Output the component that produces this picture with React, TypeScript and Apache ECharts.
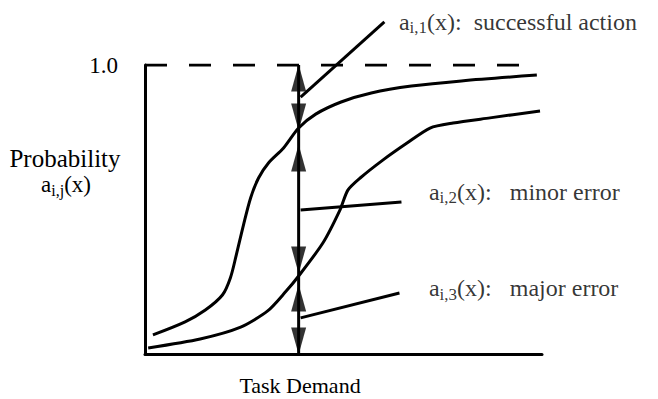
import React, { useEffect, useRef } from "react";
import * as echarts from "echarts";

// Task demand (0..10) vs probability (0..1)
const upperCurve: [number, number][] = [
  [0.2, 0.066], [1.01, 0.111], [1.52, 0.152], [1.95, 0.204], [2.15, 0.263],
  [2.3, 0.343], [2.48, 0.446], [2.66, 0.54], [2.86, 0.609], [3.11, 0.661],
  [3.49, 0.713], [3.87, 0.782], [4.3, 0.83], [4.94, 0.872], [5.7, 0.903],
  [6.71, 0.927], [7.97, 0.945], [9.87, 0.965],
];
const lowerCurve: [number, number][] = [
  [0.08, 0.021], [1.39, 0.052], [2.41, 0.093], [3.09, 0.149], [3.54, 0.215],
  [3.87, 0.27], [4.48, 0.384], [4.91, 0.498], [5.11, 0.567], [5.42, 0.609],
  [5.99, 0.671], [6.6, 0.73], [7.18, 0.782], [7.76, 0.799], [8.69, 0.817],
  [9.95, 0.841],
];
const limitLine: [number, number][] = [[0, 1], [9.87, 1]];
const demandX = 3.87;
const measureLine: [number, number][] = [[demandX, 0], [demandX, 1]];
const upArrowTips: number[] = [1.0, 0.723, 0.239];
const downArrowTips: number[] = [0.775, 0.28, 0.0];
const leader1: [number, number][] = [[3.92, 0.889], [6.03, 1.149]];
const leader2: [number, number][] = [[3.92, 0.498], [6.46, 0.526]];
const leader3: [number, number][] = [[3.92, 0.125], [6.41, 0.211]];
const labelTexts: string[] = [
  "{a|a}{s|i,1}{a|(x):  successful action}",
  "{a|a}{s|i,2}{a|(x):   minor error}",
  "{a|a}{s|i,3}{a|(x):   major error}",
];
const yTickLabel = "1.0";
const xName = "Task Demand";
const yName1 = "Probability";
const yName2 = "{a|a}{s|i,j}{a|(x)}";

const FONT = "Liberation Serif";
const rich = {
  a: { fontFamily: FONT, fontSize: 24, color: "#000" },
  s: { fontFamily: FONT, fontSize: 17, color: "#000", padding: [12, 0, 0, 0] },
};
const nameRich = {
  a: { fontFamily: FONT, fontSize: 23, color: "#000" },
  s: { fontFamily: FONT, fontSize: 16, color: "#000", padding: [12, 0, 0, 0] },
};

export default function App() {
  const ref = useRef<HTMLDivElement>(null);
  useEffect(() => {
    if (!ref.current) return;
    const chart = echarts.init(ref.current, null, { renderer: "svg" });
    const lineStyle = { color: "#000", width: 3 };
    const leaderSeries = (data: [number, number][]) => ({
      type: "line",
      data,
      symbol: "none",
      clip: false,
      lineStyle,
      silent: true,
    });
    chart.setOption({
      animation: false,
      backgroundColor: "#fff",
      grid: { left: 145, top: 65, right: 116, bottom: 45 },
      xAxis: {
        type: "value",
        min: 0,
        max: 10,
        axisLine: { show: true, onZero: false, lineStyle: { color: "#000", width: 3 } },
        axisTick: { show: false },
        axisLabel: { show: false },
        splitLine: { show: false },
      },
      yAxis: {
        type: "value",
        min: 0,
        max: 1,
        interval: 1,
        axisLine: { show: true, onZero: false, lineStyle: { color: "#000", width: 3 } },
        axisTick: { show: false },
        axisLabel: {
          margin: 27,
          fontFamily: FONT,
          fontSize: 23,
          color: "#000",
          formatter: (v: number) => (v === 1 ? yTickLabel : ""),
        },
        splitLine: { show: false },
      },
      graphic: [
        {
          type: "text",
          x: 65,
          y: 158,
          style: { text: yName1, font: `25px "${FONT}"`, fill: "#000", textAlign: "center", textVerticalAlign: "middle" },
        },
        {
          type: "text",
          x: 66,
          y: 184,
          style: { text: yName2, rich: nameRich, fill: "#000", textAlign: "center", textVerticalAlign: "middle" },
        },
        {
          type: "text",
          x: 300,
          y: 385,
          style: { text: xName, font: `22px "${FONT}"`, fill: "#000", textAlign: "center", textVerticalAlign: "middle" },
        },
      ],
      series: [
        {
          type: "line",
          data: limitLine,
          symbol: "none",
          lineStyle: { color: "#000", width: 3, type: [22, 22] },
        },
        { type: "line", data: upperCurve, symbol: "none", smooth: 0.3, lineStyle },
        { type: "line", data: lowerCurve, symbol: "none", smooth: 0.25, lineStyle },
        { type: "line", data: measureLine, symbol: "none", lineStyle },
        leaderSeries(leader1),
        leaderSeries(leader2),
        leaderSeries(leader3),
        {
          type: "scatter",
          data: upArrowTips.map((v) => [demandX, v]),
          symbol: "triangle",
          symbolSize: [15, 27],
          symbolOffset: [0, 13],
          itemStyle: { color: "#000" },
          clip: false,
        },
        {
          type: "scatter",
          data: downArrowTips.map((v) => [demandX, v]),
          symbol: "path://M0,0L14,0L7,27Z",
          symbolSize: [15, 27],
          symbolOffset: [0, -13],
          itemStyle: { color: "#000" },
          clip: false,
        },
        {
          type: "scatter",
          clip: false,
          symbolSize: 1,
          itemStyle: { color: "rgba(0,0,0,0)" },
          data: [
            { value: leader1[1], label: { formatter: labelTexts[0], offset: [14, 0] } },
            { value: leader2[1], label: { formatter: labelTexts[1], offset: [27, -10] } },
            { value: leader3[1], label: { formatter: labelTexts[2], offset: [29, -5] } },
          ],
          label: { show: true, position: "right", distance: 0, rich },
        },
      ],
    });
    return () => chart.dispose();
  }, []);
  return <div ref={ref} style={{ width: 658, height: 399, position: "absolute", left: 0, top: 0 }} />;
}
